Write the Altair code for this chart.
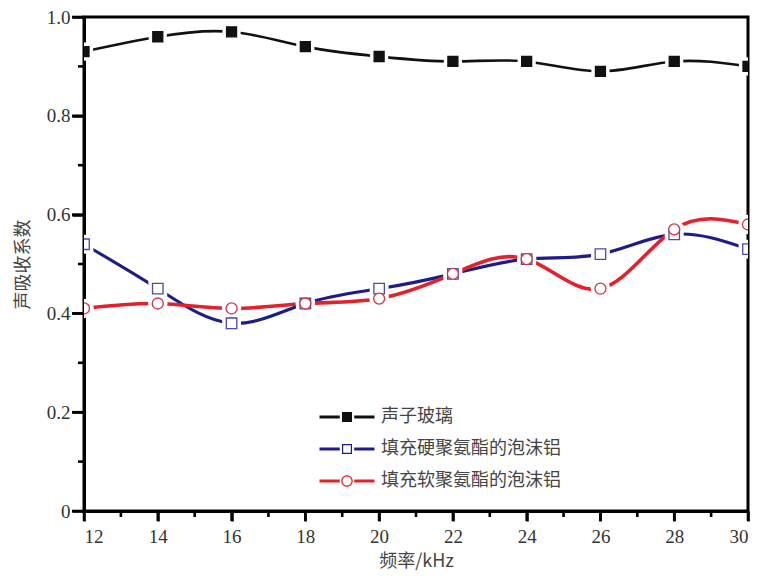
import altair as alt
import pandas as pd

freq = [12, 14, 16, 18, 20, 22, 24, 26, 28, 30]
glass = [0.93, 0.96, 0.97, 0.94, 0.92, 0.91, 0.91, 0.89, 0.91, 0.90]
hard = [0.54, 0.45, 0.38, 0.42, 0.45, 0.48, 0.51, 0.52, 0.56, 0.53]
soft = [0.41, 0.42, 0.41, 0.42, 0.43, 0.48, 0.51, 0.45, 0.57, 0.58]
series = ["声子玻璃", "填充硬聚氨酯的泡沫铝", "填充软聚氨酯的泡沫铝"]

x_major = [12, 14, 16, 18, 20, 22, 24, 26, 28, 30]
x_minor = [13, 15, 17, 19, 21, 23, 25, 27, 29]
y_major = [0, 0.2, 0.4, 0.6, 0.8, 1.0]
y_minor = [0.1, 0.3, 0.5, 0.7, 0.9]

line_colors = ["#111111", "#1c1c8a", "#e4212b"]
marker_fill = ["#111111", "#ffffff", "#ffffff"]
marker_stroke = ["#111111", "#4b4ba8", "#d03448"]

rows = []
for name, vals in zip(series, [glass, hard, soft]):
    for f, v in zip(freq, vals):
        rows.append({"freq": f, "alpha": v, "series": name})
df = pd.DataFrame(rows)

SERIF = "Liberation Serif"
CJK = "Noto Sans CJK SC"

x_scale = alt.Scale(domain=[12, 30], nice=False, zero=False)
y_scale = alt.Scale(domain=[0, 1], nice=False, zero=False)

x_axis = alt.Axis(
    values=x_major,
    ticks=True,
    tickSize=10,
    tickWidth=2.6,
    tickColor="black",
    domainColor="black",
    domainWidth=3,
    labelFont=SERIF,
    labelFontSize=19,
    labelColor="#333333",
    labelPadding=6,
    grid=False,
    title="频率/kHz",
    titleFont=CJK,
    titleFontSize=18,
    titleFontWeight="normal",
    titleColor="#444444",
    titlePadding=6,
)
y_axis = alt.Axis(
    values=y_major,
    ticks=True,
    tickSize=12,
    tickWidth=2.6,
    tickColor="black",
    domainColor="black",
    domainWidth=3,
    labelFont=SERIF,
    labelFontSize=19,
    labelColor="#333333",
    labelPadding=2,
    grid=False,
    labelExpr="datum.value == 0 ? '0' : format(datum.value, '.1f')",
    title="声吸收系数",
    titleFont=CJK,
    titleFontSize=18,
    titleFontWeight="normal",
    titleColor="#444444",
    titlePadding=14,
)

base = alt.Chart(df)

lines = base.mark_line(interpolate="natural", clip=True).encode(
    x=alt.X("freq:Q", scale=x_scale, axis=x_axis),
    y=alt.Y("alpha:Q", scale=y_scale, axis=y_axis),
    color=alt.Color("series:N", scale=alt.Scale(domain=series, range=line_colors), legend=None),
    strokeWidth=alt.StrokeWidth("series:N", scale=alt.Scale(domain=series, range=[2.6, 3.6, 3.6]), legend=None),
)

halo = base.mark_point(filled=True, color="white", opacity=1, clip=True).encode(
    x="freq:Q",
    y="alpha:Q",
    shape=alt.Shape("series:N", scale=alt.Scale(domain=series, range=["square", "square", "circle"]), legend=None),
    size=alt.Size("series:N", scale=alt.Scale(domain=series, range=[330, 380, 420]), legend=None),
)

markers = base.mark_point(filled=True, opacity=1, strokeWidth=1.3, clip=True).encode(
    x="freq:Q",
    y="alpha:Q",
    shape=alt.Shape("series:N", scale=alt.Scale(domain=series, range=["square", "square", "circle"]), legend=None),
    size=alt.Size("series:N", scale=alt.Scale(domain=series, range=[100, 121, 144]), legend=None),
    fill=alt.Fill("series:N", scale=alt.Scale(domain=series, range=marker_fill), legend=None),
    stroke=alt.Stroke("series:N", scale=alt.Scale(domain=series, range=marker_stroke), legend=None),
)

# tick marks (major and minor), positioned through the shared scales
major_x = alt.Chart(pd.DataFrame({"freq": x_major})).mark_rule(color="black", strokeWidth=2.6).encode(
    x="freq:Q", y=alt.value(494), y2=alt.value(504)
)
minor_x = alt.Chart(pd.DataFrame({"freq": x_minor})).mark_rule(color="black", strokeWidth=2.6).encode(
    x="freq:Q", y=alt.value(494), y2=alt.value(500)
)
major_y = alt.Chart(pd.DataFrame({"alpha": y_major})).mark_rule(color="black", strokeWidth=2.6).encode(
    y="alpha:Q", x=alt.value(0), x2=alt.value(-12)
)
minor_y = alt.Chart(pd.DataFrame({"alpha": y_minor})).mark_rule(color="black", strokeWidth=2.6).encode(
    y="alpha:Q", x=alt.value(0), x2=alt.value(-6)
)

seg = "M-5.5,-0.3L-1.45,-0.3L-1.45,0.3L-5.5,0.3Z M1.45,-0.3L5.5,-0.3L5.5,0.3L1.45,0.3Z "
legend_shapes = [
    seg + "M-1,-1L1,-1L1,1L-1,1Z",
    seg + "M-1,-1L1,-1L1,1L-1,1Z M-0.76,-0.76L-0.76,0.76L0.76,0.76L0.76,-0.76Z",
    seg + "M-1.15,0A1.15,1.15 0 1,1 1.15,0A1.15,1.15 0 1,1 -1.15,0Z M-0.9,0A0.9,0.9 0 1,0 0.9,0A0.9,0.9 0 1,0 -0.9,0Z",
]

legend_layer = base.transform_filter("datum.freq < 0").mark_point(filled=True, opacity=1, size=100).encode(
    x="freq:Q",
    y="alpha:Q",
    color=alt.Color(
        "series:N",
        scale=alt.Scale(domain=series, range=line_colors),
        legend=alt.Legend(
            title=None,
            orient="none",
            legendX=254,
            legendY=391,
            labelFont=CJK,
            labelFontSize=18,
            labelColor="#444444",
            labelOffset=25,
            symbolSize=100,
            symbolStrokeWidth=0,
            rowPadding=14,
            padding=0,
            labelLimit=400,
        ),
    ),
    shape=alt.Shape("series:N", scale=alt.Scale(domain=series, range=legend_shapes)),
)

chart = (
    alt.layer(lines, halo, markers, major_x, minor_x, major_y, minor_y, legend_layer)
    .resolve_scale(color="independent", shape="independent", size="independent",
                   fill="independent", stroke="independent", strokeWidth="independent")
    .properties(
        width=664,
        height=494,
        autosize="none",
        padding={"left": 76, "top": 9, "right": 3, "bottom": 60},
        background="white",
    )
    .configure(font=SERIF)
    .configure_axis(labelFont=SERIF, labelFontSize=19)
    .configure_view(stroke="black", strokeWidth=3)
)

chart.save("out.html", embed_options={"renderer": "svg", "actions": False})
